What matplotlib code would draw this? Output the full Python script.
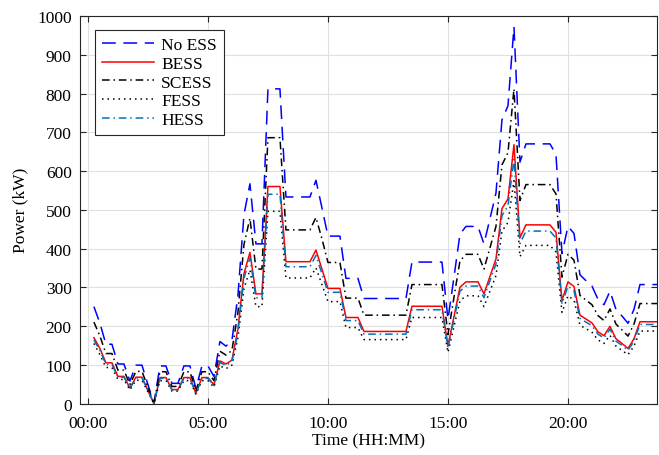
import matplotlib
matplotlib.use("Agg")
import matplotlib.pyplot as plt
import numpy as np

plt.rcParams['font.family'] = ['Liberation Serif', 'DejaVu Serif']
plt.rcParams['font.size'] = 12.5

# 15-minute samples from 00:15 to 23:45, power in kW
hours = np.arange(1, 96) * 0.25

no_ess = [250, 207, 153, 153, 102, 102, 58, 99, 99, 49, 0, 97, 97, 52, 52, 97,
          97, 39, 97, 97, 70, 160, 148, 163, 279, 487, 567, 412, 412, 812, 812, 812,
          533, 533, 533, 533, 533, 576, 505, 432, 432, 432, 323, 323, 323, 271, 271, 271,
          271, 271, 271, 271, 271, 365, 365, 365, 365, 365, 365, 217, 326, 437, 457, 457,
          457, 412, 477, 543, 732, 768, 972, 623, 670, 670, 670, 670, 670, 643, 387, 457,
          439, 332, 317, 303, 269, 255, 290, 243, 226, 207, 243, 307, 307, 307, 307]

bess = [170, 142, 105, 105, 70, 70, 40, 68, 68, 34, 0, 67, 67, 36, 36, 67,
        67, 27, 67, 67, 48, 110, 102, 112, 192, 335, 390, 283, 283, 560, 560, 560,
        366, 366, 366, 366, 366, 396, 347, 297, 297, 297, 222, 222, 222, 186, 186, 186,
        186, 186, 186, 186, 186, 251, 251, 251, 251, 251, 251, 149, 224, 300, 314, 314,
        314, 283, 328, 373, 503, 528, 668, 428, 461, 461, 461, 461, 461, 442, 266, 314,
        302, 228, 218, 208, 185, 175, 199, 167, 155, 142, 167, 211, 211, 211, 211]

scess = [210, 174, 129, 129, 86, 86, 49, 83, 83, 42, 0, 82, 82, 44, 44, 82,
         82, 33, 82, 82, 59, 135, 125, 137, 235, 410, 478, 347, 347, 686, 686, 686,
         448, 448, 448, 448, 448, 480, 425, 364, 364, 364, 272, 272, 272, 228, 228, 228,
         228, 228, 228, 228, 228, 307, 307, 307, 307, 307, 307, 178, 274, 368, 385, 385,
         385, 347, 402, 457, 616, 647, 812, 524, 565, 565, 565, 565, 565, 541, 326, 385,
         370, 279, 267, 255, 227, 214, 244, 205, 190, 174, 205, 258, 258, 258, 258]

fess = [155, 126, 93, 93, 62, 62, 35, 60, 60, 30, 0, 59, 59, 32, 32, 59,
        59, 24, 59, 59, 42, 97, 90, 99, 170, 296, 345, 250, 250, 496, 496, 496,
        324, 324, 324, 324, 324, 350, 307, 263, 263, 263, 196, 196, 196, 165, 165, 165,
        165, 165, 165, 165, 165, 222, 222, 222, 222, 222, 222, 132, 198, 265, 278, 278,
        278, 250, 290, 330, 445, 467, 575, 379, 408, 408, 408, 408, 408, 391, 235, 278,
        267, 202, 193, 184, 164, 155, 176, 148, 137, 126, 148, 187, 187, 187, 187]

hess = [164, 137, 101, 101, 68, 68, 39, 66, 66, 33, 0, 65, 65, 35, 35, 65,
        65, 26, 65, 65, 46, 106, 98, 108, 185, 323, 376, 273, 273, 540, 540, 540,
        353, 353, 353, 353, 353, 382, 335, 287, 287, 287, 214, 214, 214, 179, 179, 179,
        179, 179, 179, 179, 179, 242, 242, 242, 242, 242, 242, 144, 216, 290, 303, 303,
        303, 273, 317, 360, 485, 510, 630, 413, 445, 445, 445, 445, 445, 427, 257, 303,
        291, 220, 210, 201, 179, 169, 192, 161, 150, 137, 161, 204, 204, 204, 204]

fig = plt.figure(figsize=(6.59, 4.56), dpi=100)
ax = fig.add_axes([0.1214, 0.1129, 0.8756, 0.8498])

lw = 1.1
ax.plot(hours, no_ess, color=(0, 0, 1), lw=lw, dashes=(9, 5), label='No ESS')
ax.plot(hours, bess, color=(1, 0, 0), lw=lw, label='BESS')
ax.plot(hours, scess, color='black', lw=lw, dashes=(5, 2.5, 1, 2.5), label='SCESS')
ax.plot(hours, fess, color='black', lw=lw, dashes=(1, 2.6), label='FESS')
ax.plot(hours, hess, color=(0, 0.447, 0.741), lw=lw, dashes=(5, 2.5, 1, 2.5), label='HESS')

ax.set_xlim(-0.33, 23.71)
ax.set_ylim(0, 1000)
xt = [0, 5, 10, 15, 20]
ax.set_xticks(xt)
ax.set_xticklabels([f'{h:02d}:00' for h in xt])
ax.set_yticks(np.arange(0, 1001, 100))

ax.grid(True, color='0.88', lw=0.8)
ax.set_axisbelow(True)
for s in ax.spines.values():
    s.set_color('0.15')
    s.set_linewidth(0.8)
ax.tick_params(direction='in', length=4, width=0.8, color='0.15',
               top=True, right=True, labelcolor='black')
ax.tick_params(axis='x', pad=8)
ax.tick_params(axis='y', pad=6)

ax.set_xlabel('Time (HH:MM)', labelpad=1)
ax.set_ylabel('Power (kW)', labelpad=6)

leg = ax.legend(loc='upper left', bbox_to_anchor=(0.026, 0.964), borderaxespad=0,
                fancybox=False, framealpha=1, edgecolor='0.15', handlelength=3.0,
                handletextpad=0.4, labelspacing=0.15, borderpad=0.4)
leg.get_frame().set_linewidth(0.8)

fig.savefig('out.png', dpi=100)
